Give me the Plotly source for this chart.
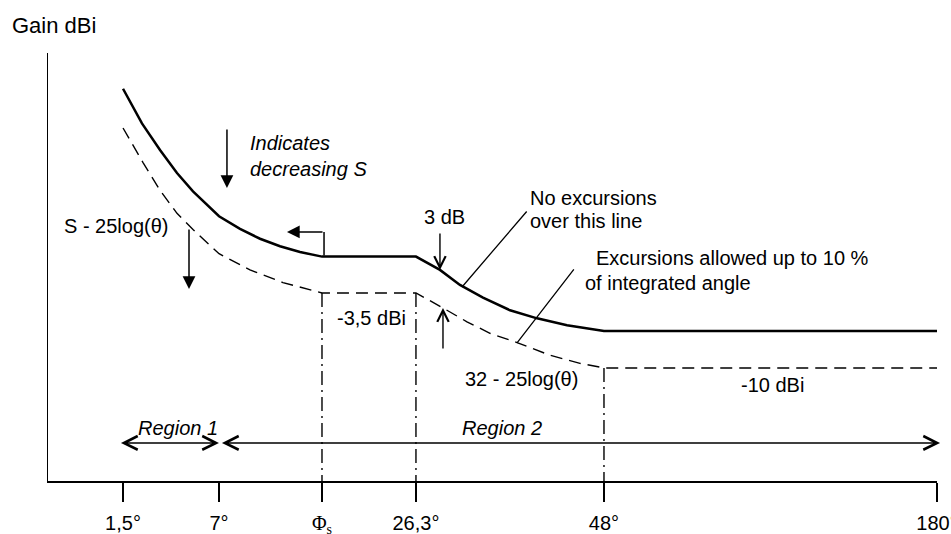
import plotly.graph_objects as go

# ---------------- data (schematic x position 0..100, gain in dBi) ----------------
tick_pos = [8.44, 19.24, 30.82, 41.39, 62.54, 100.0]
tick_labels = ["1,5°", "7°",
               "<span style=\"font-family:'Liberation Serif', serif\">Φ<sub>s</sub></span>",
               "26,3°", "48°", "180°"]

solid_x = [8.44, 10.57, 12.60, 14.51, 16.31, 17.89, 19.24, 21.60, 23.85, 26.10, 28.35,
           30.82, 41.39, 44.09, 46.34, 48.93, 51.97, 55.01, 58.38, 62.54, 100.0]
solid_y = [14.2, 11.2, 8.9, 6.9, 5.3, 4.1, 3.15, 2.05, 1.2, 0.55, 0.05,
           -0.35, -0.35, -1.5, -2.8, -3.9, -5.0, -5.7, -6.3, -6.8, -6.8]

dashed_x = [8.44, 10.69, 12.60, 14.51, 16.31, 19.24, 22.72, 26.43, 30.82, 41.39,
            44.43, 47.13, 49.72, 52.76, 56.47, 59.84, 62.54, 100.0]
dashed_y = [10.8, 7.8, 5.4, 3.4, 2.0, -0.1, -1.5, -2.6, -3.5, -3.5,
            -4.8, -6.0, -7.0, -7.8, -8.9, -9.6, -10.0, -10.0]

Y_MIN, Y_MAX = -19.8, 17.3
vline_x = [tick_pos[2], tick_pos[3], tick_pos[4]]
vline_top = [-3.5, -3.5, -10.0]

FONT = "Liberation Sans, Arial, sans-serif"
FS = 20

fig = go.Figure()
fig.add_trace(go.Scatter(x=solid_x, y=solid_y, mode="lines",
                         line=dict(color="black", width=2.5), hoverinfo="skip"))
fig.add_trace(go.Scatter(x=dashed_x, y=dashed_y, mode="lines",
                         line=dict(color="black", width=1.4, dash="12px,7px"), hoverinfo="skip"))
vx, vy = [], []
for xv, top in zip(vline_x, vline_top):
    vx += [xv, xv, None]
    vy += [top, Y_MIN, None]
fig.add_trace(go.Scatter(x=vx, y=vy, mode="lines",
                         line=dict(color="black", width=1.4, dash="14px,5px,2px,5px"),
                         hoverinfo="skip"))

ann = []


def text(x, y, s, size=FS, anchor="left", italic=False, family=FONT):
    if italic:
        s = "<i>" + s + "</i>"
    ann.append(dict(x=x, y=y, xref="x", yref="y", text=s,
                    showarrow=False, xanchor=anchor, yanchor="middle",
                    font=dict(family=family, size=size, color="black")))


def arrow(x0, y0, x1, y1, head=2, size=1.7, width=1.5, side="end"):
    ann.append(dict(x=x1, y=y1, ax=x0, ay=y0, xref="x", yref="y", axref="x", ayref="y",
                    text="", showarrow=True, arrowhead=head, startarrowhead=head,
                    arrowsize=size, startarrowsize=size, arrowwidth=width,
                    arrowcolor="black", arrowside=side, standoff=0, startstandoff=0))


# axis title (paper coordinates, above the plot area)
ann.append(dict(x=-0.0427, y=1.065, xref="paper", yref="paper", text="Gain dBi",
                showarrow=False, xanchor="left", yanchor="middle",
                font=dict(family=FONT, size=22, color="black")))

# labels inside
text(22.50, 9.49, "Indicates", italic=True)
text(22.50, 7.24, "decreasing S", italic=True)
text(1.57, 2.30, "S - 25log(θ)")
text(42.07, 3.08, "3 dB")
text(53.99, 4.75, "No excursions")
text(53.99, 2.76, "over this line")
text(61.42, -0.47, "Excursions allowed up to 10 %")
text(60.18, -2.63, "of integrated angle")
text(32.28, -5.67, "-3,5 dBi")
text(46.68, -10.94, "32 - 25log(θ)")
text(77.73, -11.47, "-10 dBi")
text(9.90, -15.19, "Region 1", italic=True)
text(46.34, -15.19, "Region 2", italic=True)

# arrows
arrow(20.13, 10.80, 20.13, 5.60, head=2, size=1.7)
arrow(15.86, 2.13, 15.86, -3.15, head=2, size=1.7)
arrow(31.05, -0.38, 31.05, 1.79, head=0, width=1.5)
arrow(31.05, 1.79, 26.88, 1.79, head=2, size=1.7)
arrow(44.09, 1.79, 44.09, -1.51, head=5, size=1.6, width=1.4)
arrow(44.43, -8.44, 44.43, -4.80, head=5, size=1.6, width=1.4)
arrow(53.99, 3.69, 46.57, -2.98, head=0, width=1.3)
arrow(59.28, -1.33, 52.76, -7.83, head=0, width=1.3)
# region arrows
arrow(19.40, -16.5, 8.21, -16.5, head=5, size=1.8, width=1.5, side="end+start")
arrow(19.40, -16.5, 100.34, -16.5, head=5, size=1.8, width=1.5, side="end+start")

fig.update_layout(
    width=951, height=534, autosize=False,
    margin=dict(l=48, r=14, t=53, b=53, autoexpand=False),
    paper_bgcolor="white", plot_bgcolor="white",
    showlegend=False,
    annotations=ann,
    font=dict(family=FONT, size=FS, color="black"),
    xaxis=dict(range=[0, 100], showgrid=False, zeroline=False, showline=True,
               linecolor="black", linewidth=1.5, ticks="outside", ticklen=19,
               tickwidth=1.5, tickcolor="black", tickvals=tick_pos, ticktext=tick_labels,
               tickfont=dict(family=FONT, size=FS, color="black"), fixedrange=True,
               ticklabelstandoff=4, ticklabeloverflow="allow", automargin=False),
    yaxis=dict(range=[Y_MIN, Y_MAX], showgrid=False, zeroline=False, showline=True,
               linecolor="black", linewidth=1.5, ticks="", showticklabels=False,
               fixedrange=True, automargin=False),
)

fig.write_html(
    "out.html",
    config={"displayModeBar": False, "staticPlot": True},
    post_script="document.body.style.margin='0';document.body.style.padding='0';"
                "document.body.style.overflow='hidden';",
)
